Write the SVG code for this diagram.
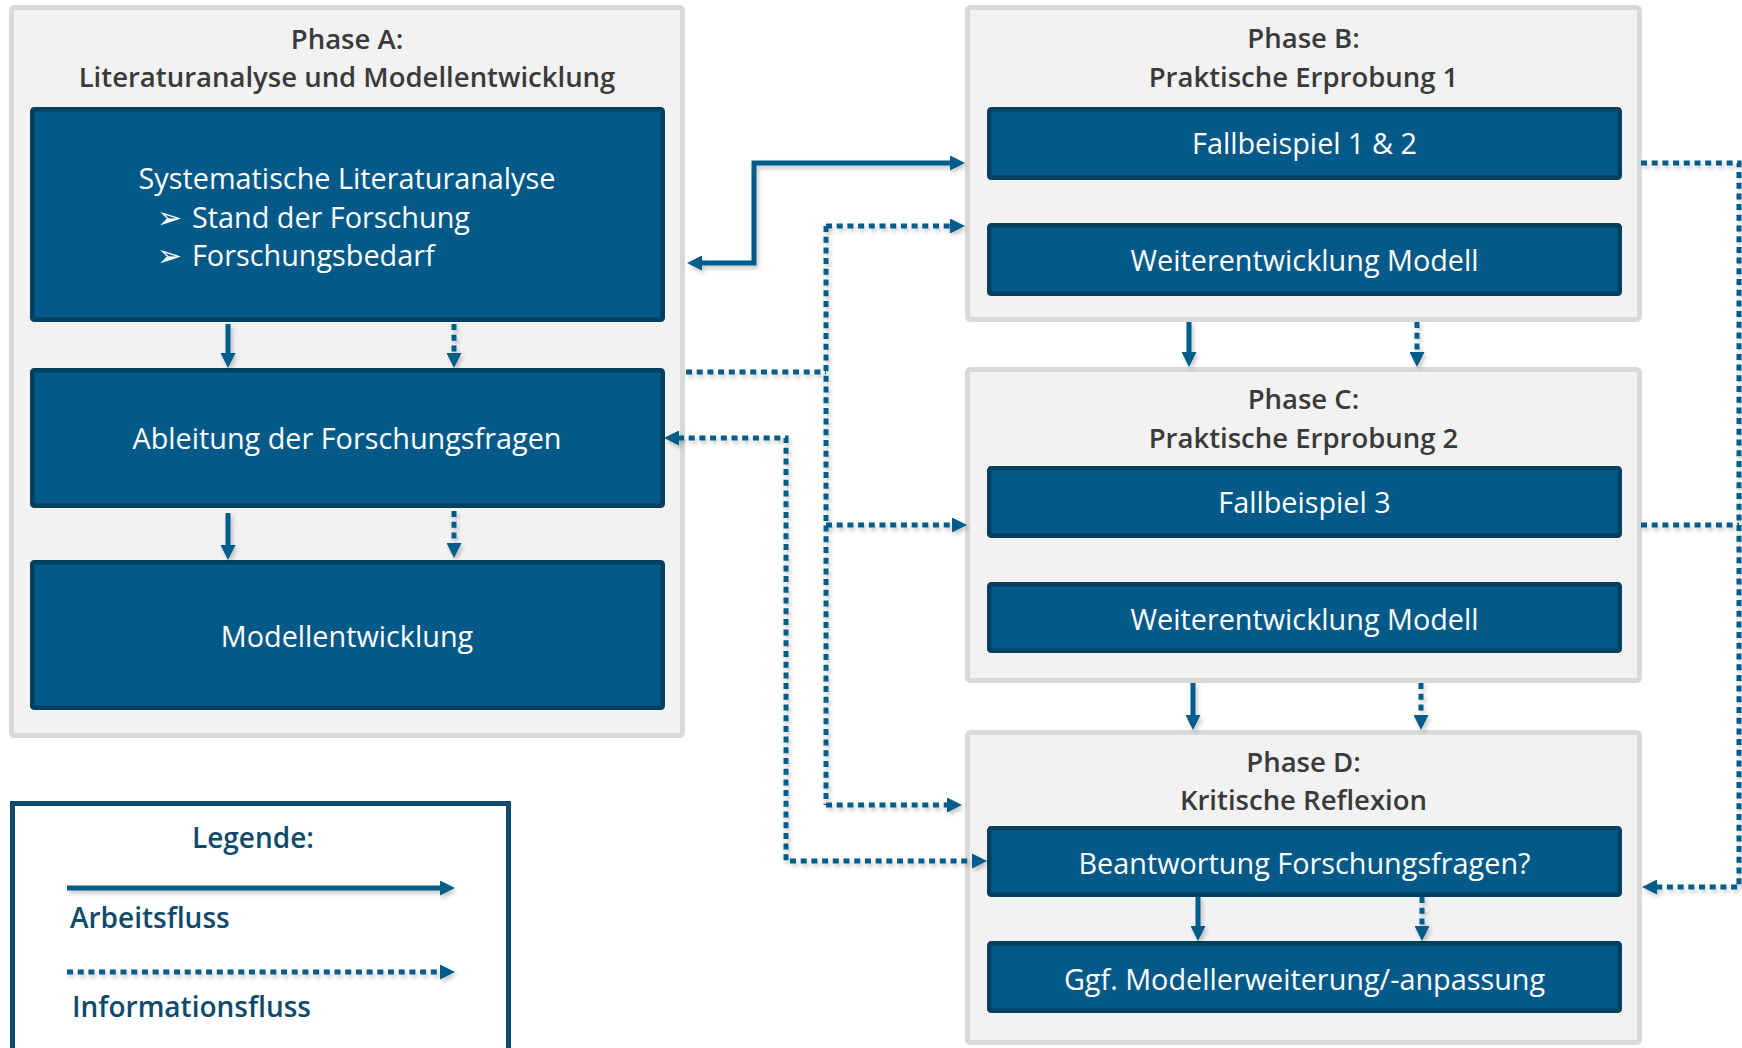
<svg xmlns="http://www.w3.org/2000/svg" width="1742" height="1048" viewBox="0 0 1742 1048">
  <defs>
    <style>
      .phase { fill: #f2f2f2; stroke: #d9d9d9; stroke-width: 5; }
      .box { fill: #035a88; stroke: #023f60; stroke-width: 4.5; }
      .txt { font-family: "Open Sans", "Liberation Sans", sans-serif; font-size: 28.8px; }
      .c { text-anchor: middle; }
      .w { fill: #ffffff; }
      .h { fill: #3a3a3a; font-weight: 600; font-size: 27.5px; }
      .lg { fill: #0e4a6c; font-weight: 600; font-size: 28px; }
      .bul { font-family: "DejaVu Sans", sans-serif; font-size: 30px; }
      .flow { fill: none; stroke: #065c89; stroke-width: 5; }
      .info { fill: none; stroke: #065c89; stroke-width: 5; stroke-dasharray: 6 4.7; }
    </style>
    <marker id="head" viewBox="0 0 15 15" markerWidth="15" markerHeight="15" refX="1" refY="7.5" markerUnits="userSpaceOnUse" orient="auto-start-reverse">
      <path d="M0,0 L15,7.5 L0,15 z" fill="#065c89"/>
    </marker>
    <filter id="shadow" filterUnits="userSpaceOnUse" x="0" y="0" width="1742" height="1048">
      <feDropShadow dx="2" dy="3" stdDeviation="2" flood-color="#000000" flood-opacity="0.22"/>
    </filter>
  </defs>

  <rect width="1742" height="1048" fill="#ffffff"/>

  <!-- Phase A -->
  <g id="phaseA">
    <rect class="phase" x="11.5" y="7.5" width="671" height="728" rx="3"/>
    <text class="txt c h" x="347" y="49">Phase A:</text>
    <text class="txt c h" x="347" y="87">Literaturanalyse und Modellentwicklung</text>
  </g>
  <g id="literaturanalyse">
    <rect class="box" x="32.25" y="109.25" width="630.5" height="210.5" rx="2"/>
    <text class="txt c w" x="347" y="189">Systematische Literaturanalyse</text>
    <text class="txt w" x="157" y="228"><tspan class="bul">➢</tspan><tspan x="192">Stand der Forschung</tspan></text>
    <text class="txt w" x="157" y="266"><tspan class="bul">➢</tspan><tspan x="192">Forschungsbedarf</tspan></text>
  </g>
  <g id="forschungsfragen">
    <rect class="box" x="32.25" y="370.25" width="630.5" height="135.5" rx="2"/>
    <text class="txt c w" x="347" y="449">Ableitung der Forschungsfragen</text>
  </g>
  <g id="modellentwicklung">
    <rect class="box" x="32.25" y="562.25" width="630.5" height="145.5" rx="2"/>
    <text class="txt c w" x="347" y="647">Modellentwicklung</text>
  </g>

  <!-- Phase B -->
  <g id="phaseB">
    <rect class="phase" x="967.5" y="7.5" width="672" height="312" rx="3"/>
    <text class="txt c h" x="1303.5" y="48">Phase B:</text>
    <text class="txt c h" x="1303.5" y="87">Praktische Erprobung 1</text>
  </g>
  <g id="fallbeispiel12">
    <rect class="box" x="989.25" y="109.25" width="630.5" height="68.5" rx="2"/>
    <text class="txt c w" x="1304.5" y="154">Fallbeispiel 1 &amp; 2</text>
  </g>
  <g id="weiterentwicklungB">
    <rect class="box" x="989.25" y="225.25" width="630.5" height="68.5" rx="2"/>
    <text class="txt c w" x="1304.5" y="271">Weiterentwicklung Modell</text>
  </g>

  <!-- Phase C -->
  <g id="phaseC">
    <rect class="phase" x="967.5" y="369.5" width="672" height="311" rx="3"/>
    <text class="txt c h" x="1303.5" y="409">Phase C:</text>
    <text class="txt c h" x="1303.5" y="448">Praktische Erprobung 2</text>
  </g>
  <g id="fallbeispiel3">
    <rect class="box" x="989.25" y="468.25" width="630.5" height="67.5" rx="2"/>
    <text class="txt c w" x="1304.5" y="513">Fallbeispiel 3</text>
  </g>
  <g id="weiterentwicklungC">
    <rect class="box" x="989.25" y="584.25" width="630.5" height="66.5" rx="2"/>
    <text class="txt c w" x="1304.5" y="630">Weiterentwicklung Modell</text>
  </g>

  <!-- Phase D -->
  <g id="phaseD">
    <rect class="phase" x="967.5" y="732.5" width="672" height="310" rx="3"/>
    <text class="txt c h" x="1303.5" y="772">Phase D:</text>
    <text class="txt c h" x="1303.5" y="810">Kritische Reflexion</text>
  </g>
  <g id="beantwortung">
    <rect class="box" x="989.25" y="828.25" width="630.5" height="66.5" rx="2"/>
    <text class="txt c w" x="1304.5" y="874">Beantwortung Forschungsfragen?</text>
  </g>
  <g id="modellerweiterung">
    <rect class="box" x="989.25" y="943.25" width="630.5" height="67.5" rx="2"/>
    <text class="txt c w" x="1304.5" y="990">Ggf. Modellerweiterung/-anpassung</text>
  </g>

  <!-- Legend -->
  <g id="legende">
    <rect x="12.5" y="803.5" width="496" height="270" fill="#ffffff" stroke="#0e4a6c" stroke-width="5"/>
    <text class="txt c lg" x="253" y="848">Legende:</text>
    <g filter="url(#shadow)">
      <path class="flow" d="M67,888 H441" marker-end="url(#head)"/>
      <path class="info" d="M67,972 H441" marker-end="url(#head)"/>
    </g>
    <text class="txt lg" x="70" y="928">Arbeitsfluss</text>
    <text class="txt lg" x="72" y="1017">Informationsfluss</text>
  </g>

  <!-- Connectors -->
  <g id="connectors" filter="url(#shadow)">
    <!-- work flow within phase A -->
    <path class="flow" d="M228,324 V354" marker-end="url(#head)"/>
    <path class="flow" d="M228,513 V546" marker-end="url(#head)"/>
    <!-- information flow within phase A -->
    <path class="info" d="M454,324 V354" marker-end="url(#head)"/>
    <path class="info" d="M454,511 V544" marker-end="url(#head)"/>

    <!-- A <-> B work flow -->
    <path class="flow" d="M701,263 H754 V163 H951" marker-start="url(#head)" marker-end="url(#head)"/>

    <!-- A -> B, C, D information trunk -->
    <path class="info" d="M686,372 H826"/>
    <path class="info" d="M826,226 V805"/>
    <path class="info" d="M826,226 H951" marker-end="url(#head)"/>
    <path class="info" d="M826,525 H953" marker-end="url(#head)"/>
    <path class="info" d="M826,805 H948" marker-end="url(#head)"/>

    <!-- research questions <-> answering -->
    <path class="info" d="M678,438 H786 V861 H973" marker-start="url(#head)" marker-end="url(#head)"/>

    <!-- B -> C -->
    <path class="flow" d="M1189,322 V353" marker-end="url(#head)"/>
    <path class="info" d="M1417,322 V353" marker-end="url(#head)"/>
    <!-- C -> D -->
    <path class="flow" d="M1193,683 V716" marker-end="url(#head)"/>
    <path class="info" d="M1421,683 V716" marker-end="url(#head)"/>
    <!-- within D -->
    <path class="flow" d="M1198,897 V927" marker-end="url(#head)"/>
    <path class="info" d="M1422,897 V927" marker-end="url(#head)"/>

    <!-- case studies -> D (right side) -->
    <path class="info" d="M1641,163 H1739 V887 H1656" marker-end="url(#head)"/>
    <path class="info" d="M1641,525 H1739"/>
  </g>
</svg>
